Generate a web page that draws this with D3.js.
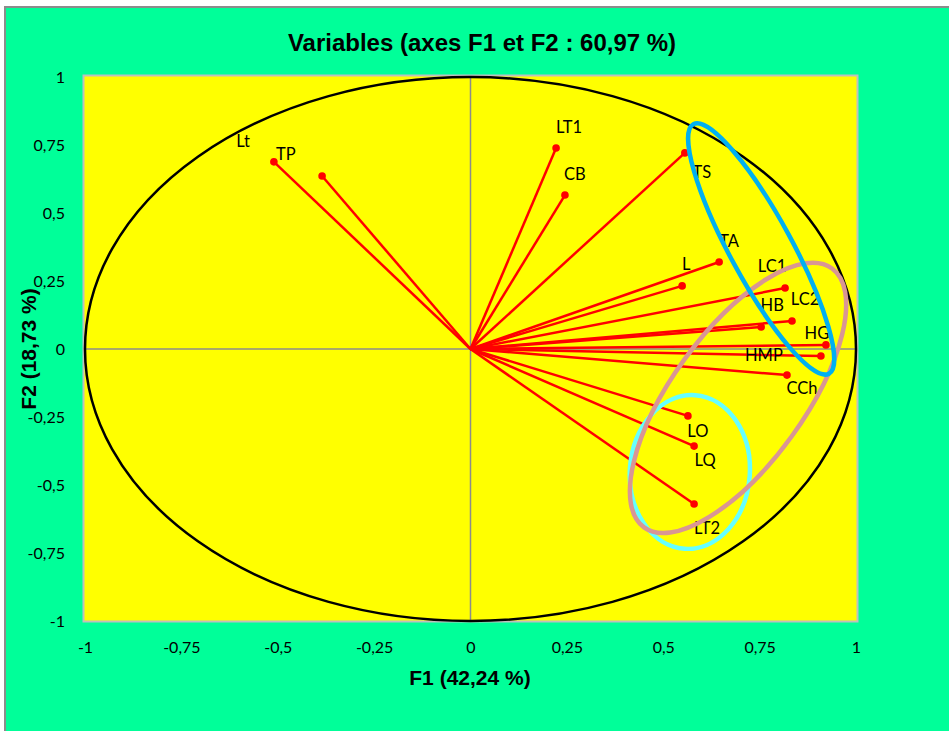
<!DOCTYPE html>
<html>
 <head>
    <meta charset="utf-8">
    <script type="text/javascript" src="https://d3js.org/d3.v7.min.js"></script>
    <style>
      body { margin: 0; background: #fff; }
    </style>
 </head>

 <body>
    <div id="my_dataviz"></div>

<script>

  // variables and their coordinates on F1 / F2
  var varNames = ["TP", "Lt", "LT1", "CB", "TS", "TA", "L", "LC1", "LC2", "HB", "HG", "HMP", "CCh", "LO", "LQ", "LT2"];
  var f1Values = [-0.510, -0.385, 0.222, 0.245, 0.556, 0.645, 0.549, 0.816, 0.834, 0.754, 0.922, 0.909, 0.821, 0.564, 0.580, 0.580];
  var f2Values = [0.688, 0.636, 0.739, 0.566, 0.721, 0.320, 0.232, 0.224, 0.103, 0.081, 0.015, -0.026, -0.096, -0.246, -0.357, -0.570];

  // where each label sits relative to its point (px)
  var labelDx = [12, -79, 13, 10, 17, 10, 4, -13, 13, 11, -9, -57, 15, 10, 11, 13];
  var labelDy = [-8, -35, -21, -21, 19, -21, -22, -22, -22, -22, -12, -1, 13, 15, 14, 24];

  var tickValues = [-1, -0.75, -0.5, -0.25, 0, 0.25, 0.5, 0.75, 1];

  // hand drawn groups (centre in F1/F2 units, radii in px, angle in degrees)
  var groupCx = [0.569, 0.694, 0.754];
  var groupCy = [-0.452, -0.180, 0.368];
  var groupRx = [60, 160, 142];
  var groupRy = [77, 66, 31];
  var groupAngle = [4, -54, 61.5];
  var groupColor = ["#66FFFF", "#D99694", "#00B0F0"];

  var width = 949, height = 731;

  var svg = d3.select("#my_dataviz")
            .append("svg")
              .attr("width", width)
              .attr("height", height);

  // chart area
  svg.append("rect")
      .attr("x", 5).attr("y", 7)
      .attr("width", 960).attr("height", 740)
      .attr("fill", "#00FF99")
      .attr("stroke", "#8C8C8C")
      .attr("stroke-width", 2);

  var x = d3.scaleLinear().domain([-1, 1]).range([85, 856]);
  var y = d3.scaleLinear().domain([-1, 1]).range([621, 77]);

  // plot area
  svg.append("rect")
      .attr("x", x(-1) - 1.5).attr("y", y(1) - 1.5)
      .attr("width", x(1) - x(-1) + 3).attr("height", y(-1) - y(1) + 2)
      .attr("fill", "#FFFF00")
      .attr("stroke", "#BFBFBF")
      .attr("stroke-width", 2);

  // zero lines
  svg.append("line")
      .attr("x1", x(-1)).attr("x2", x(1))
      .attr("y1", y(0)).attr("y2", y(0))
      .attr("stroke", "#8C8C8C").attr("stroke-width", 1.5);
  svg.append("line")
      .attr("x1", x(0)).attr("x2", x(0))
      .attr("y1", y(1)).attr("y2", y(-1))
      .attr("stroke", "#8C8C8C").attr("stroke-width", 1.5);

  // correlation circle
  svg.append("ellipse")
      .attr("cx", x(0)).attr("cy", y(0))
      .attr("rx", x(1) - x(0)).attr("ry", y(0) - y(1))
      .attr("fill", "none")
      .attr("stroke", "#000")
      .attr("stroke-width", 2.5);

  var fmt = function(d) { return String(d).replace(".", ","); };

  // tick labels only
  var xAxis = svg.append("g")
      .attr("transform", "translate(0,639)")
      .call(d3.axisBottom(x).tickValues(tickValues).tickSize(0).tickFormat(fmt));
  xAxis.select(".domain").remove();
  xAxis.selectAll("text")
      .attr("font-family", "Lato, sans-serif")
      .attr("font-size", "16px")
      .attr("fill", "#000");

  var yAxis = svg.append("g")
      .attr("transform", "translate(68,0)")
      .call(d3.axisLeft(y).tickValues(tickValues).tickSize(0).tickFormat(fmt));
  yAxis.select(".domain").remove();
  yAxis.selectAll("text")
      .attr("font-family", "Lato, sans-serif")
      .attr("font-size", "16px")
      .attr("fill", "#000");

  var idx = d3.range(varNames.length);

  // vectors
  svg.append("g")
    .selectAll("line")
    .data(idx)
    .join("line")
      .attr("x1", x(0)).attr("y1", y(0))
      .attr("x2", i => x(f1Values[i]))
      .attr("y2", i => y(f2Values[i]))
      .attr("stroke", "#FF0000")
      .attr("stroke-width", 2.5);

  svg.append("g")
    .selectAll("circle")
    .data(idx)
    .join("circle")
      .attr("cx", i => x(f1Values[i]))
      .attr("cy", i => y(f2Values[i]))
      .attr("r", 3.8)
      .attr("fill", "#FF0000");

  svg.append("g")
    .selectAll("text")
    .data(idx)
    .join("text")
      .attr("x", i => x(f1Values[i]) + labelDx[i])
      .attr("y", i => y(f2Values[i]) + labelDy[i])
      .attr("dy", "0.35em")
      .attr("text-anchor", "middle")
      .attr("font-family", "Lato, sans-serif")
      .attr("font-size", "16.5px")
      .attr("fill", "#000")
      .text(i => varNames[i]);

  // groups drawn over the chart
  svg.append("g")
    .selectAll("ellipse")
    .data(d3.range(groupCx.length))
    .join("ellipse")
      .attr("transform", i => "translate(" + x(groupCx[i]) + "," + y(groupCy[i]) + ") rotate(" + groupAngle[i] + ")")
      .attr("rx", i => groupRx[i])
      .attr("ry", i => groupRy[i])
      .attr("fill", "none")
      .attr("stroke", i => groupColor[i])
      .attr("stroke-width", 4.5);

  // titles
  svg.append("text")
      .attr("x", 482).attr("y", 51)
      .attr("text-anchor", "middle")
      .attr("font-family", "Liberation Sans, Arial, sans-serif")
      .attr("font-weight", "bold")
      .attr("font-size", "24px")
      .text("Variables (axes F1 et F2 : 60,97 %)");

  svg.append("text")
      .attr("x", 470).attr("y", 685)
      .attr("text-anchor", "middle")
      .attr("font-family", "Liberation Sans, Arial, sans-serif")
      .attr("font-weight", "bold")
      .attr("font-size", "21px")
      .text("F1 (42,24 %)");

  svg.append("text")
      .attr("transform", "translate(36,349) rotate(-90)")
      .attr("text-anchor", "middle")
      .attr("font-family", "Liberation Sans, Arial, sans-serif")
      .attr("font-weight", "bold")
      .attr("font-size", "21px")
      .text("F2 (18,73 %)");

  </script>
 </body>
</html>
